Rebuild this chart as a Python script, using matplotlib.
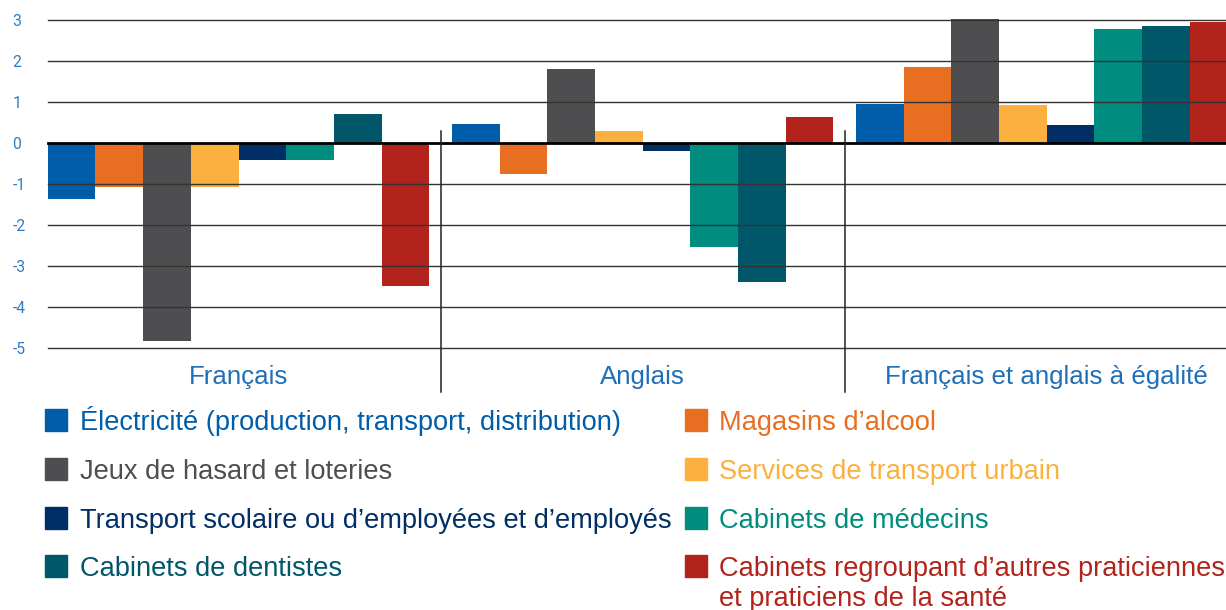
import matplotlib
matplotlib.use("Agg")
import matplotlib.pyplot as plt
import numpy as np
from matplotlib.patches import Rectangle

plt.rcParams['font.family'] = ['Liberation Sans', 'DejaVu Sans']

groups = ["Français", "Anglais", "Français et anglais à égalité"]
series = [
    "Électricité (production, transport, distribution)",
    "Magasins d\u2019alcool",
    "Jeux de hasard et loteries",
    "Services de transport urbain",
    "Transport scolaire ou d\u2019employées et d\u2019employés",
    "Cabinets de médecins",
    "Cabinets de dentistes",
    "Cabinets regroupant d\u2019autres praticiennes\net praticiens de la santé",
]
electricite = [-1.36, 0.46, 0.96]
alcool = [-1.06, -0.74, 1.86]
jeux = [-4.83, 1.82, 3.03]
transport_urbain = [-1.06, 0.30, 0.94]
transport_scolaire = [-0.42, -0.18, 0.45]
medecins = [-0.42, -2.53, 2.79]
dentistes = [0.72, -3.39, 2.86]
autres = [-3.48, 0.65, 2.96]
yticks = [3, 2, 1, 0, -1, -2, -3, -4, -5]

values = [electricite, alcool, jeux, transport_urbain, transport_scolaire,
          medecins, dentistes, autres]
colors = ["#005DAA", "#E86E21", "#4E4E50", "#FBB040",
          "#002F65", "#008C7E", "#005769", "#B2231B"]

W, H = 1226, 610
fig = plt.figure(figsize=(W / 100, H / 100), dpi=100)
ax = fig.add_axes([48 / W, (H - 348) / H, 1 - 48 / W, 348 / H])

x = np.arange(len(groups))
bw = 0.118
for i, (vals, c) in enumerate(zip(values, colors)):
    ax.bar(x + (i - 3.5) * bw, vals, width=bw, color=c, zorder=2, linewidth=0)

for t in yticks:
    if t == 0:
        ax.axhline(t, color="black", lw=2.0, zorder=4, clip_on=False)
    else:
        ax.axhline(t, color="#333333", lw=1.0, zorder=3, clip_on=False)

ax.set_xlim(-0.4715, 2.4435)
ax.set_ylim(-5, 3.5)
for s in ax.spines.values():
    s.set_visible(False)
ax.set_xticks([])
ax.set_yticks(yticks)
ax.set_yticklabels([str(t) for t in yticks])
ax.tick_params(axis="y", length=0, pad=25.5, labelsize=11.3, labelcolor="#2F7CC4")
for lab in ax.get_yticklabels():
    lab.set_horizontalalignment("left")
    lab.set_fontfamily(["Roboto", "DejaVu Sans"])

# separators
for xs in [0.5, 1.5]:
    ax.plot([xs, xs], [0.29, -6.08], color="#222222", lw=1.1, clip_on=False, zorder=5)

# group labels
for xi, g in zip(x, groups):
    ax.text(xi, -5.89, g, ha="center", va="baseline", fontsize=18.6,
            color="#1F6FB8")

# legend
def px(xp, yp):
    return xp / W, 1 - yp / H

rows = [420, 469, 518, 566]
col_marker = [45, 685]
col_text = [80, 719]
order = [(0, 0), (1, 0), (0, 1), (1, 1), (0, 2), (1, 2), (0, 3), (1, 3)]
for i, (col, row) in enumerate(order):
    yc = rows[row]
    mx, my = px(col_marker[col], yc + 10.5)
    fig.patches.append(Rectangle((mx, my), 21.5 / W, 21.5 / H, transform=fig.transFigure,
                                 color=colors[i], zorder=5))
    for k, line in enumerate(series[i].split("\n")):
        tx, ty = px(col_text[col], yc + 10 + 29.5 * k)
        fig.text(tx, ty, line, ha="left", va="baseline", fontsize=19.6,
                 color=colors[i])

fig.savefig("out.png", dpi=100)
